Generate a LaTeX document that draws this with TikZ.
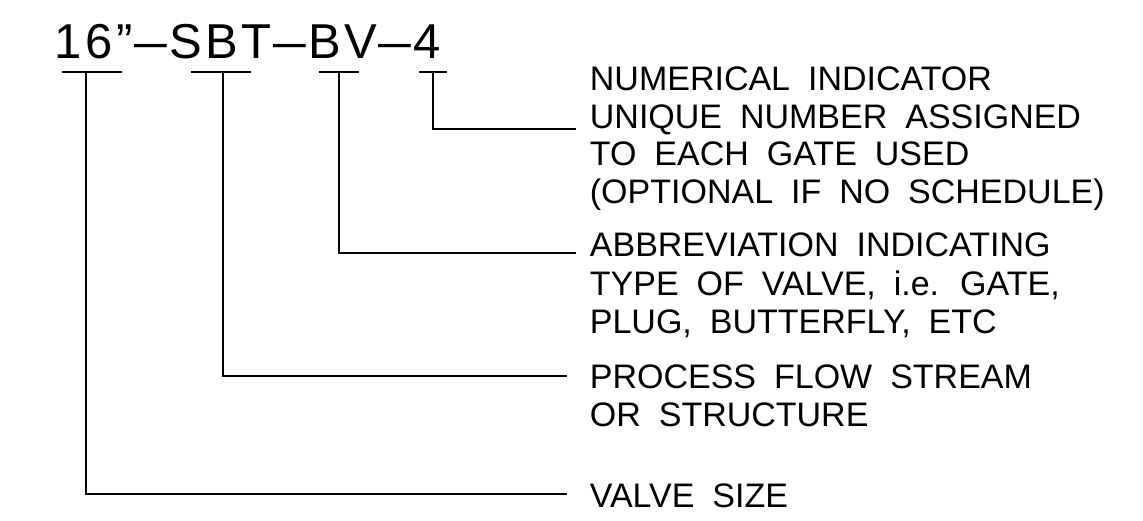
\documentclass[tikz,border=0pt]{standalone}
\usepackage{fontspec}
\newfontfamily\cadfont[WordSpace=1.9]{Liberation Sans}
\newfontfamily\titlecad[LetterSpace=7]{Liberation Sans}
\newcommand{\cdash}{\kern2pt\scalebox{1.2}[1]{–}\kern2pt}
\begin{document}
\begin{tikzpicture}[x=1pt,y=-1pt,line width=1.8pt,
  lbl/.style={anchor=base west,inner sep=0pt,font=\cadfont\fontsize{34}{34}\selectfont},
  ttl/.style={anchor=base west,inner sep=0pt,font=\titlecad\fontsize{49}{49}\selectfont},
  leader/.style={line width=1.8pt,line join=miter}]
\useasboundingbox (0,0) rectangle (1143,521);
% title
\node[ttl] (title) at (54,59) {16”\cdash SBT\cdash BV\cdash 4};
% tick tops and ends
\coordinate (a1) at (62,72);  \coordinate (b1) at (122,72);  \coordinate (t1) at (86,72);
\coordinate (a2) at (191,72); \coordinate (b2) at (251,72);  \coordinate (t2) at (223,72);
\coordinate (a3) at (319,72); \coordinate (b3) at (359,72);  \coordinate (t3) at (339,72);
\coordinate (a4) at (419,72); \coordinate (b4) at (447,72);  \coordinate (t4) at (433,72);
\coordinate (c1) at (86,494);  \coordinate (e1) at (567,494);
\coordinate (c2) at (223,376); \coordinate (e2) at (567,376);
\coordinate (c3) at (339,253); \coordinate (e3) at (576,253);
\coordinate (c4) at (433,129); \coordinate (e4) at (576,129);
\draw[leader] (a1) -- (b1); \draw[leader] (t1) -- (c1) -- (e1);
\draw[leader] (a2) -- (b2); \draw[leader] (t2) -- (c2) -- (e2);
\draw[leader] (a3) -- (b3); \draw[leader] (t3) -- (c3) -- (e3);
\draw[leader] (a4) -- (b4); \draw[leader] (t4) -- (c4) -- (e4);
% labels
\node[lbl] (n1) at (589,91)  {NUMERICAL INDICATOR};
\node[lbl] (n2) at (589,129) {UNIQUE NUMBER ASSIGNED};
\node[lbl] (n3) at (589,166) {TO EACH GATE USED};
\node[lbl] (n4) at (589,204) {(OPTIONAL IF NO SCHEDULE)};
\node[lbl] (m1) at (589,257) {ABBREVIATION INDICATING};
\node[lbl] (m2) at (589,295) {TYPE OF VALVE, i.e. GATE,};
\node[lbl] (m3) at (589,334) {PLUG, BUTTERFLY, ETC};
\node[lbl] (p1) at (589,388) {PROCESS FLOW STREAM};
\node[lbl] (p2) at (589,426) {OR STRUCTURE};
\node[lbl] (v1) at (589,507) {VALVE SIZE};
\end{tikzpicture}
\end{document}
